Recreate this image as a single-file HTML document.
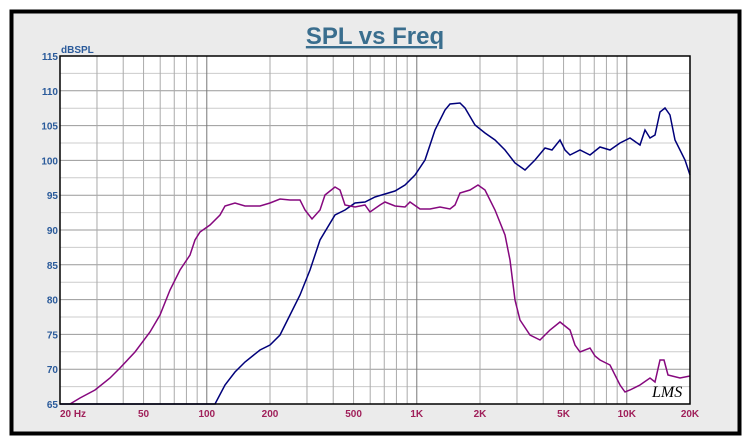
<!DOCTYPE html><html><head><style>body{margin:0;background:#fff}svg{display:block}</style></head><body>
<svg width="750" height="445" xmlns="http://www.w3.org/2000/svg" font-family="Liberation Sans, sans-serif">
<rect x="0" y="0" width="750" height="445" fill="#fff"/>
<rect x="11.5" y="11.5" width="728" height="422" fill="#ebebeb" stroke="#000" stroke-width="4"/>
<text x="375" y="44" text-anchor="middle" font-size="24" font-weight="bold" fill="#3a6e8e" text-decoration="underline">SPL vs Freq</text>
<rect x="60" y="56" width="630" height="348" fill="#fff"/>
<g id="grid" stroke-width="1"></g>
<g font-size="10" font-weight="bold" fill="#2a5a9a" text-anchor="end" id="yl"></g>
<text x="61" y="53" font-size="10" font-weight="bold" fill="#2a5a9a">dBSPL</text>
<g font-size="10" font-weight="bold" fill="#a0205a" text-anchor="middle" id="xl"></g>
<polyline fill="none" stroke="#00007a" stroke-width="1.5" points="60,404 215,404 225,385 235,372 245,362 260,350 270,345 280,335 290,315 300,295 310,270 320,240 335,215 345,210 355,203 365,202 375,197 385,194 395,191 405,185 415,175 425,160 435,130 445,110 450,104 460,103 465,108 475,125 485,133 495,140 505,150 515,163 525,170 535,160 545,148 552,150 560,140 565,150 570,155 580,150 590,155 600,147 610,150 620,143 630,138 640,145 645,130 650,138 655,135 660,112 665,108 670,115 675,140 685,160 690,175"/>
<polyline fill="none" stroke="#86087e" stroke-width="1.5" points="70,404 80,398 95,390 110,378 120,368 135,352 150,332 160,315 170,290 180,270 190,255 195,240 200,232 210,225 220,215 225,206 235,203 245,206 260,206 270,203 280,199 290,200 300,200 305,210 312,219 320,210 325,195 335,187 340,190 345,205 355,207 365,205 370,212 380,205 385,202 395,206 405,207 410,202 420,209 430,209 440,207 450,209 455,205 460,193 470,190 478,185 485,190 495,210 505,235 510,260 515,300 520,320 530,335 540,340 550,330 560,322 570,330 575,345 580,352 590,348 595,356 600,360 610,365 620,385 625,392 630,390 640,385 650,378 655,382 660,360 664,360 668,375 680,378 690,376"/>
<rect x="60" y="56" width="630" height="348" fill="none" stroke="#000" stroke-width="1.5"/>
<text x="652" y="397" font-size="16" font-style="italic" fill="#000" font-family="Liberation Serif, serif">LMS</text>
<script>
var g=document.getElementById('grid'),yl=document.getElementById('yl'),xl=document.getElementById('xl'),ns='http://www.w3.org/2000/svg';
function L(x1,y1,x2,y2,c){var l=document.createElementNS(ns,'line');l.setAttribute('x1',x1);l.setAttribute('y1',y1);l.setAttribute('x2',x2);l.setAttribute('y2',y2);l.setAttribute('stroke',c);g.appendChild(l);}
function T(p,x,y,s){var t=document.createElementNS(ns,'text');t.setAttribute('x',x);t.setAttribute('y',y);t.textContent=s;p.appendChild(t);}
for(var d=65;d<=115;d+=5){var y=56+(115-d)*6.96;L(60,y,690,y,'#999');T(yl,58,y+4,d);}
for(var d=67.5;d<115;d+=5){var y=56+(115-d)*6.96;L(60,y,690,y,'#ccc');}
[20,30,40,50,60,70,80,90,100,200,300,400,500,600,700,800,900,1000,2000,3000,4000,5000,6000,7000,8000,9000,10000,20000].forEach(function(f){var x=60+210*Math.log10(f/20);var dk=(f==100||f==1000||f==10000);L(x,56,x,404,dk?'#777':'#aaa');});
[[20,'20  Hz'],[50,'50'],[100,'100'],[200,'200'],[500,'500'],[1000,'1K'],[2000,'2K'],[5000,'5K'],[10000,'10K'],[20000,'20K']].forEach(function(a){var x=60+210*Math.log10(a[0]/20);if(a[0]==20)x=73;T(xl,x,417,a[1]);});
</script>
</svg></body></html>
